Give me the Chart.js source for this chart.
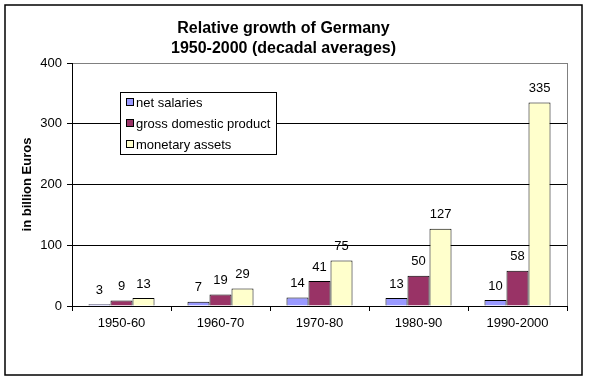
<!DOCTYPE html>
<html>
<head>
<meta charset="utf-8">
<script src="https://cdn.jsdelivr.net/npm/chart.js@4/dist/chart.umd.min.js"></script>
<style>
  html, body { margin: 0; padding: 0; background: #fff; }
  #wrap { width: 589px; height: 381px; position: relative; }
</style>
</head>
<body>
<div id="wrap"><canvas id="c" width="589" height="381"></canvas></div>
<script>
const categories = ['1950-60', '1960-70', '1970-80', '1980-90', '1990-2000'];
const netSalaries = [3, 7, 14, 13, 10];
const gdp = [9, 19, 41, 50, 58];
const monetaryAssets = [13, 29, 75, 127, 335];
const seriesLabels = ['net salaries', 'gross domestic product', 'monetary assets'];
const yTicks = [0, 100, 200, 300, 400];

const FONT = "'Liberation Sans', Arial, sans-serif";

const frameAndLabels = {
  id: 'frameAndLabels',
  afterDatasetsDraw(chart) {
    const ctx = chart.ctx;
    const a = chart.chartArea;
    ctx.save();
    // plot area right border (gray)
    ctx.strokeStyle = '#808080';
    ctx.lineWidth = 1;
    ctx.beginPath();
    ctx.moveTo(Math.round(a.right) + 0.5, a.top);
    ctx.lineTo(Math.round(a.right) + 0.5, a.bottom);
    ctx.stroke();
    // data labels
    ctx.fillStyle = '#000';
    ctx.font = '13px ' + FONT;
    ctx.textAlign = 'center';
    ctx.textBaseline = 'middle';
    chart.data.datasets.forEach((ds, i) => {
      const meta = chart.getDatasetMeta(i);
      meta.data.forEach((bar, j) => {
        ctx.fillText(String(ds.data[j]), bar.x, bar.y - 14);
      });
    });
    // legend
    const lx = 120.5, ly = 92.5, lw = 156, lh = 62;
    ctx.fillStyle = '#fff';
    ctx.fillRect(lx, ly, lw, lh);
    ctx.strokeStyle = '#000';
    ctx.strokeRect(lx, ly, lw, lh);
    ctx.textAlign = 'left';
    chart.data.datasets.forEach((ds, i) => {
      const cy = 103 + i * 21;
      ctx.fillStyle = ds.backgroundColor;
      ctx.fillRect(126.5, cy - 4.5, 7, 7);
      ctx.strokeStyle = '#000';
      ctx.strokeRect(126.5, cy - 4.5, 7, 7);
      ctx.fillStyle = '#000';
      ctx.fillText(ds.label, 136, cy);
    });
    // outer frame
    ctx.strokeStyle = '#000';
    ctx.lineWidth = 1.5;
    ctx.strokeRect(5, 5, 577, 370);
    ctx.restore();
  }
};

new Chart(document.getElementById('c'), {
  type: 'bar',
  data: {
    labels: categories,
    datasets: [
      { label: seriesLabels[0], data: netSalaries, backgroundColor: '#9999FF', borderColor: '#000', borderWidth: 1 },
      { label: seriesLabels[1], data: gdp, backgroundColor: '#993366', borderColor: '#000', borderWidth: 1 },
      { label: seriesLabels[2], data: monetaryAssets, backgroundColor: '#FFFFCC', borderColor: '#000', borderWidth: 1 }
    ]
  },
  options: {
    responsive: false,
    animation: false,
    devicePixelRatio: 1,
    layout: { padding: { left: 0, right: 22, top: 0, bottom: 0 } },
    datasets: { bar: { barPercentage: 1.0, categoryPercentage: 0.667 } },
    plugins: {
      legend: { display: false },
      tooltip: { enabled: false },
      title: {
        display: true,
        text: ['Relative growth of Germany', '1950-2000 (decadal averages)'],
        color: '#000',
        font: { family: FONT, size: 16, weight: 'bold', lineHeight: '20px' },
        padding: { top: 19, bottom: 4 }
      }
    },
    scales: {
      x: {
        grid: { display: true, drawOnChartArea: false, drawTicks: true, tickLength: 5, offset: true, color: '#000' },
        border: { display: true, color: '#000', width: 1 },
        ticks: { color: '#000', font: { family: FONT, size: 13 }, padding: 5, maxRotation: 0 },
        afterFit(scale) { scale.height = 75; }
      },
      y: {
        min: 0, max: 400,
        afterBuildTicks(scale) { scale.ticks = yTicks.map(v => ({ value: v })); },
        grid: {
          color: (c) => (c.tick && c.tick.value === 400 ? '#808080' : '#000'),
          tickColor: '#000',
          tickLength: 5,
          drawTicks: true
        },
        border: { display: true, color: '#000', width: 1 },
        ticks: { color: '#000', font: { family: FONT, size: 13 }, padding: 5 },
        title: {
          display: true,
          text: 'in billion Euros',
          color: '#000',
          font: { family: FONT, size: 13, weight: 'bold' },
          padding: { top: 20, bottom: 0 }
        },
        afterFit(scale) { scale.width = 72; }
      }
    }
  },
  plugins: [frameAndLabels]
});
</script>
</body>
</html>
